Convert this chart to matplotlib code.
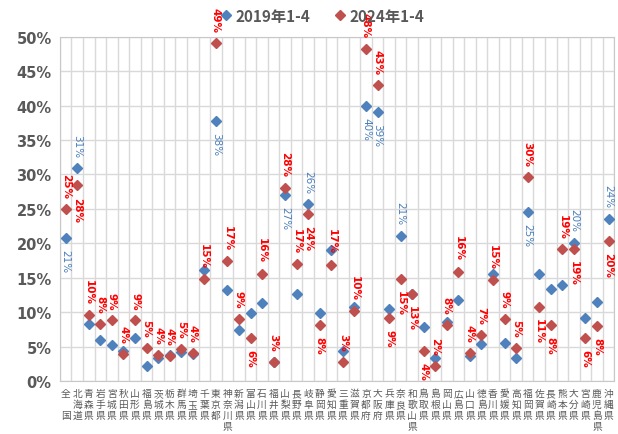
import matplotlib
matplotlib.use("Agg")
import matplotlib.pyplot as plt
import numpy as np

prefs = ["全　国", "北海道", "青森県", "岩手県", "宮城県", "秋田県", "山形県", "福島県",
         "茨城県", "栃木県", "群馬県", "埼玉県", "千葉県", "東京都", "神奈川県", "新潟県",
         "富山県", "石川県", "福井県", "山梨県", "長野県", "岐阜県", "静岡県", "愛知県",
         "三重県", "滋賀県", "京都府", "大阪府", "兵庫県", "奈良県", "和歌山県", "鳥取県",
         "島根県", "岡山県", "広島県", "山口県", "徳島県", "香川県", "愛媛県", "高知県",
         "福岡県", "佐賀県", "長崎県", "熊本県", "大分県", "宮崎県", "鹿児島県", "沖縄県"]

# share (%) 2019 Jan-Apr
v2019 = [20.8, 30.9, 8.3, 5.9, 5.2, 4.3, 6.3, 2.2, 3.3, 3.8, 4.2, 3.9, 16.1, 37.8, 13.2, 7.4,
         9.9, 11.3, 2.8, 27.0, 12.6, 25.7, 9.8, 19.0, 4.4, 10.7, 40.0, 39.1, 10.4, 21.1, 12.7, 7.8,
         3.3, 8.5, 11.8, 3.6, 5.3, 15.5, 5.5, 3.3, 24.6, 15.5, 13.3, 14.0, 20.1, 9.1, 11.5, 23.6]
# share (%) 2024 Jan-Apr
v2024 = [25.0, 28.4, 9.6, 8.3, 8.8, 3.9, 8.8, 4.8, 3.8, 3.6, 4.6, 4.1, 14.8, 49.1, 17.4, 9.0,
         6.3, 15.6, 2.8, 28.1, 17.0, 24.3, 8.1, 16.9, 2.8, 10.1, 48.3, 43.0, 9.1, 14.8, 12.7, 4.4,
         2.2, 8.2, 15.9, 4.1, 6.7, 14.6, 9.0, 4.8, 29.6, 10.7, 8.2, 19.1, 19.2, 6.2, 8.0, 20.3]

# label placement: a = above, b = below, "" = no label
pos2019 = ["b", "a", "", "", "", "", "", "", "", "", "", "", "", "b", "", "",
           "", "", "", "b", "", "a", "", "", "", "", "b", "b", "", "a", "", "",
           "", "", "", "", "", "", "", "", "b", "", "", "", "a", "", "", "a"]
pos2024 = ["a", "b", "a", "a", "a", "a", "a", "a", "a", "a", "a", "a", "a", "a", "a", "a",
           "b", "a", "a", "a", "a", "b", "b", "a", "a", "a", "a", "a", "b", "b", "b", "b",
           "a", "a", "a", "a", "a", "a", "a", "a", "a", "b", "b", "a", "b", "b", "b", "b"]

blue = "#4f81bd"
red = "#c0504d"
gray = "#595959"

fig = plt.figure(figsize=(6.18, 4.35), dpi=100)
ax = fig.add_axes([0.097, 0.122, 0.897, 0.791])

x = np.arange(len(prefs))
ax.plot(x, v2019, "D", color=blue, ms=4.6, mec=blue, label="2019年1-4", zorder=3)
ax.plot(x, v2024, "D", color=red, ms=4.6, mec=red, label="2024年1-4", zorder=4)


def put_labels(vals, where, color, weight):
    for i, (v, p) in enumerate(zip(vals, where)):
        if not p:
            continue
        off = 8 if p == "a" else -8
        ax.annotate("%d%%" % round(v), (i, v), xytext=(0, off), textcoords="offset points",
                    rotation=-90, ha="center", va="bottom" if p == "a" else "top",
                    color=color, fontsize=7.5, fontweight=weight, zorder=5,
                    annotation_clip=False)


put_labels(v2019, pos2019, "#4a7ebb", "normal")
put_labels(v2024, pos2024, "#ff0000", "bold")

ax.set_xlim(-0.5, len(prefs) - 0.5)
ax.set_ylim(0, 50)
ax.set_yticks(np.arange(0, 51, 5))
ax.set_yticklabels(["%d%%" % t for t in range(0, 51, 5)], fontsize=10.5,
                   fontweight="bold", color=gray)
ax.set_xticks(x)
ax.set_xticklabels(["\n".join(p) for p in prefs], family=["Noto Sans CJK JP", "DejaVu Sans"],
                   fontsize=7, color=gray, linespacing=1.12, va="top")
ax.set_xticks(np.arange(-0.5, len(prefs), 1), minor=True)
ax.tick_params(which="both", length=0)
ax.tick_params(axis="x", pad=5)
ax.tick_params(axis="y", pad=6)
ax.grid(axis="y", which="major", color="#d9d9d9", lw=1)
ax.grid(axis="x", which="minor", color="#d9d9d9", lw=1)
ax.set_axisbelow(True)
for s in ax.spines.values():
    s.set_color("#c8c8c8")

leg = fig.legend(loc="center", bbox_to_anchor=(0.52, 0.962), ncol=2, frameon=False,
                 prop={"family": ["Noto Sans CJK JP", "DejaVu Sans"], "weight": "bold", "size": 11},
                 handletextpad=0.1, columnspacing=1.5, handlelength=1.0)
for t in leg.get_texts():
    t.set_color(gray)

plt.savefig("out.png", dpi=100)
